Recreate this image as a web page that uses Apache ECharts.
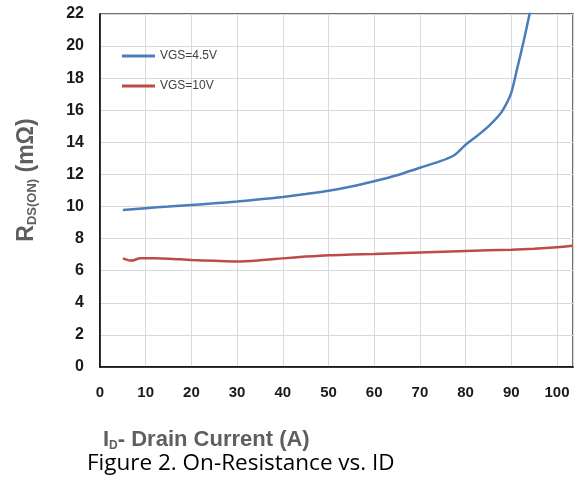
<!DOCTYPE html>
<html>
<head>
<meta charset="utf-8">
<script src="https://cdn.jsdelivr.net/npm/echarts@6/dist/echarts.min.js"></script>
<style>
html,body{margin:0;padding:0;background:#fff;}
#chart{width:575px;height:491px;}
</style>
</head>
<body>
<div id="chart"></div>
<script>
// Data
const seriesNames = ['VGS=4.5V', 'VGS=10V'];
const vgs45 = [
  [5, 9.78], [10, 9.9], [15, 10.0], [20, 10.1], [25, 10.2], [30, 10.32],
  [35, 10.45], [40, 10.6], [45, 10.78], [50, 10.98], [55, 11.25], [60, 11.58],
  [65, 11.95], [70, 12.42], [74, 12.78], [77.5, 13.2], [80, 13.85], [82.5, 14.4],
  [85, 15.0], [87.5, 15.75], [89, 16.45], [90, 17.1], [91.2, 18.5], [92.7, 20.3],
  [94, 22.0], [95, 23.3]
];
const vgs10 = [
  [5, 6.77], [6.9, 6.63], [8.8, 6.77], [12, 6.77], [15, 6.75], [20, 6.67],
  [25, 6.62], [30, 6.58], [35, 6.65], [40, 6.77], [45, 6.88], [50, 6.97],
  [55, 7.01], [60, 7.04], [70, 7.14], [80, 7.23], [90, 7.31], [95, 7.37],
  [100, 7.46], [103.5, 7.55]
];
const xTicks = {min: 0, max: 103.5, interval: 10};
const yTicks = {min: 0, max: 22, interval: 2};
const yTitle = {main: 'R', sub: 'DS(ON)', tail: ' (mΩ)'};
const xTitle = {main: 'I', sub: 'D', tail: '- Drain Current (A)'};
const caption = 'Figure 2. On-Resistance vs. ID';

const chart = echarts.init(document.getElementById('chart'), null, {renderer: 'canvas'});
const tickFont = "'Liberation Sans', Arial, sans-serif";
const titleFont = "'Liberation Sans', Arial, sans-serif";
const titleGray = '#5f5f5f';
chart.setOption({
  animation: false,
  grid: {left: 100, top: 14, right: 2, bottom: 124, show: true, borderColor: '#404040', borderWidth: 1.5, backgroundColor: 'transparent'},
  legend: {
    orient: 'vertical', left: 117, top: 45,
    itemWidth: 33, itemHeight: 3, itemGap: 18,
    icon: 'rect',
    textStyle: {fontFamily: tickFont, fontSize: 12, color: '#404040'},
    data: seriesNames
  },
  xAxis: {
    type: 'value', min: xTicks.min, max: xTicks.max, interval: xTicks.interval,
    axisLine: {show: true, lineStyle: {color: '#000', width: 1.5}},
    axisTick: {show: false},
    splitLine: {show: true, lineStyle: {color: '#d9d9d9', width: 1}},
    axisLabel: {showMaxLabel: false, margin: 18, fontFamily: tickFont, fontWeight: 'bold', fontSize: 15, color: '#1a1a1a'}
  },
  yAxis: {
    type: 'value', min: yTicks.min, max: yTicks.max, interval: yTicks.interval,
    axisLine: {show: true, lineStyle: {color: '#000', width: 1.5}},
    axisTick: {show: false},
    splitLine: {show: true, lineStyle: {color: '#d9d9d9', width: 1}},
    axisLabel: {margin: 16, fontFamily: tickFont, fontWeight: 'bold', fontSize: 16, color: '#1a1a1a'}
  },
  series: [
    {name: seriesNames[0], type: 'line', data: vgs45, smooth: 0.3, symbol: 'none', clip: true,
     lineStyle: {color: '#4a7ebb', width: 2.5}, itemStyle: {color: '#4a7ebb'}},
    {name: seriesNames[1], type: 'line', data: vgs10, smooth: 0.3, symbol: 'none', clip: true,
     lineStyle: {color: '#be4b48', width: 2.5}, itemStyle: {color: '#be4b48'}}
  ],
  graphic: [
    {type: 'text', x: 27, y: 180, rotation: Math.PI / 2,
     style: {
       text: '{m|' + yTitle.main + '}{s|' + yTitle.sub + '}{m|' + yTitle.tail + '}',
       align: 'center', verticalAlign: 'middle', fill: titleGray,
       rich: {
         m: {fontFamily: titleFont, fontWeight: 'bold', fontSize: 23, lineHeight: 24, fill: titleGray, color: titleGray},
         s: {fontFamily: titleFont, fontWeight: 'bold', fontSize: 13, lineHeight: 8, verticalAlign: 'bottom', fill: titleGray, color: titleGray}
       }
     }},
    {type: 'text', x: 103, y: 440,
     style: {
       text: '{m|' + xTitle.main + '}{s|' + xTitle.sub + '}{m|' + xTitle.tail + '}',
       align: 'left', verticalAlign: 'middle', fill: titleGray,
       rich: {
         m: {fontFamily: titleFont, fontWeight: 'bold', fontSize: 22, lineHeight: 24, fill: titleGray, color: titleGray},
         s: {fontFamily: titleFont, fontWeight: 'bold', fontSize: 12, lineHeight: 7, verticalAlign: 'bottom', fill: titleGray, color: titleGray}
       }
     }},
    {type: 'text', x: 87, y: 464,
     style: {text: caption, align: 'left', verticalAlign: 'middle',
       font: "22.5px 'Open Sans', sans-serif", fill: '#000'}}
  ]
});
</script>
</body>
</html>
